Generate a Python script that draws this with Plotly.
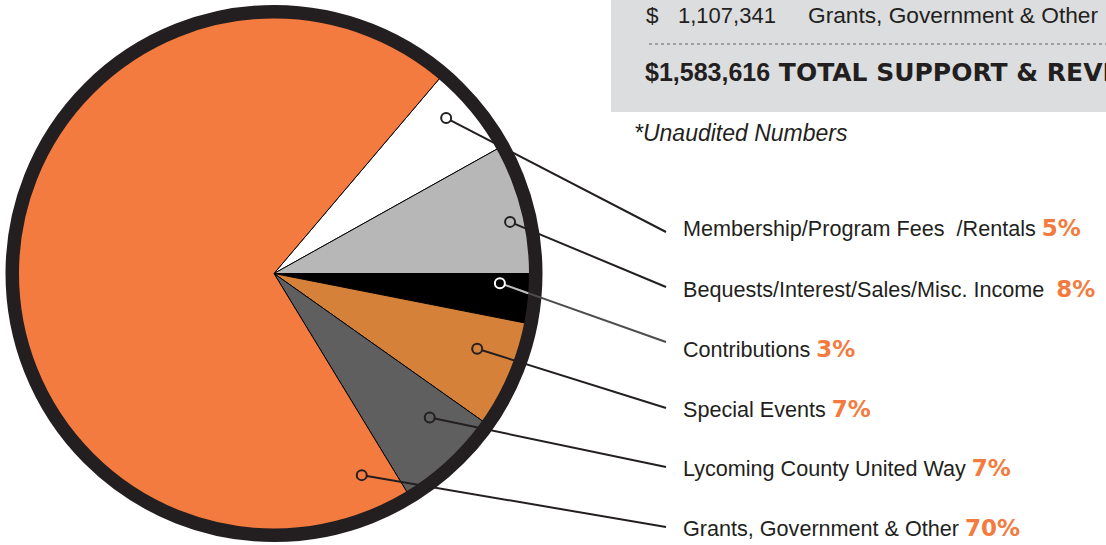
import math
import plotly.graph_objects as go

# ---- data ----
categories = [
    "Membership/Program Fees&nbsp;&nbsp;/Rentals",
    "Bequests/Interest/Sales/Misc. Income&nbsp;",
    "Contributions",
    "Special Events",
    "Lycoming County United Way",
    "Grants, Government & Other",
]
slice_shares = [5.7, 8.1, 3.1, 6.7, 6.5, 69.9]     # measured slice sizes (%)
label_pcts = [5, 8, 3, 7, 7, 70]                   # printed percentages
grants_amount = "1,107,341"
total_amount = "$1,583,616"

# ---- styling ----
slice_colors = ["#FFFFFF", "#B7B7B7", "#000000", "#D5813A", "#5F5F5F", "#F47B40"]
ORANGE = "#F47B40"
DARK = "#231F20"
SANS = "Liberation Sans, Arial, sans-serif"
W, H = 1106, 545

cx, cy = 274.0, 273.5          # pie centre (px)
outer = 268.5                  # outer edge of border (px)
border_w = 13.5
R = outer - border_w / 2.0

# fraction along each slice, and radius ratio, where callout dots sit
dot_frac = [0.37, 0.577, 0.22, 0.38, 0.32, 0.031]
dot_rad = [0.864, 0.90, 0.842, 0.807, 0.79, 0.819]
line_end_x = 666
line_end_y = [232, 287, 342, 408, 467, 527]
label_x = 681
label_y = [228, 289, 349, 409, 468, 528]

total = sum(slice_shares)
rotation = 90 - 360.0 * (slice_shares[0] + slice_shares[1]) / total

fig = go.Figure()

dom_x = [(cx - R) / W, (cx + R) / W]
dom_y = [(H - cy - R) / H, (H - cy + R) / H]

fig.add_trace(go.Pie(
    labels=categories, values=slice_shares, sort=False, direction="clockwise",
    rotation=rotation, textinfo="none", hoverinfo="label+percent",
    marker=dict(colors=slice_colors, line=dict(color="#000000", width=1)),
    domain=dict(x=dom_x, y=dom_y), showlegend=False,
))
fig.add_trace(go.Pie(
    labels=["border"], values=[1], sort=False, textinfo="none", hoverinfo="skip",
    marker=dict(colors=["rgba(0,0,0,0)"], line=dict(color=DARK, width=border_w)),
    domain=dict(x=dom_x, y=dom_y), showlegend=False,
))

# invisible pixel axes for callouts
fig.add_trace(go.Scatter(x=[0, W], y=[0, H], mode="markers",
                         marker=dict(opacity=0), hoverinfo="skip", showlegend=False))

shapes = []
annotations = []

# top-right grey box
shapes.append(dict(type="rect", x0=611, x1=W + 5, y0=-5, y1=112,
                   fillcolor="#DCDDDE", line=dict(width=0), layer="above"))
shapes.append(dict(type="line", x0=649, x1=W + 5, y0=44, y1=44,
                   line=dict(color="#8A8A8A", width=1.5, dash="dot"), layer="above"))

annotations += [
    dict(x=644, y=15, text="$", font=dict(family=SANS, size=22.5, color=DARK)),
    dict(x=676, y=15, text=grants_amount, font=dict(family=SANS, size=22, color=DARK)),
    dict(x=806, y=15, text=categories[5], font=dict(family=SANS, size=22.7, color=DARK)),
    dict(x=643, y=72,
         text="<b>" + total_amount + "<span style='font-family:DejaVu Sans'> TOTAL SUPPORT &amp; REVENUE</span></b>",
         font=dict(family=SANS, size=25, color=DARK)),
    dict(x=632, y=133, text="<i>*Unaudited Numbers</i>",
         font=dict(family=SANS, size=23, color=DARK)),
]

start = rotation
for i, (cat, v) in enumerate(zip(categories, slice_shares)):
    span = 360.0 * v / total
    a = math.radians(start + dot_frac[i] * span)
    r = dot_rad[i] * outer
    dx, dy = cx + r * math.sin(a), cy - r * math.cos(a)
    start += span
    ex, ey = line_end_x, line_end_y[i]
    L = math.hypot(ex - dx, ey - dy)
    ux, uy = (ex - dx) / L, (ey - dy) / L
    rr = 5.0
    sx, sy = dx + ux * rr, dy + uy * rr
    is_black = slice_colors[i] == "#000000"
    lc = "#4D4D4D" if is_black else DARK
    shapes.append(dict(type="line", x0=sx, y0=sy, x1=ex, y1=ey,
                       line=dict(color=lc, width=2), layer="above"))
    if is_black:
        shapes.append(dict(type="line", x0=sx, y0=sy, x1=dx + ux * 30, y1=dy + uy * 30,
                           line=dict(color="#BDBDBD", width=2), layer="above"))
    shapes.append(dict(type="circle", x0=dx - rr, x1=dx + rr, y0=dy - rr, y1=dy + rr,
                       line=dict(color="#FFFFFF" if is_black else DARK, width=2),
                       fillcolor="rgba(0,0,0,0)", layer="above"))
    annotations.append(dict(
        x=label_x, y=label_y[i],
        text=cat + " <span style='font-family:DejaVu Sans;font-weight:bold;color:" + ORANGE
             + ";font-size:23px'>" + str(label_pcts[i]) + "%</span>",
        font=dict(family=SANS, size=21.6, color=DARK)))

for an in annotations:
    an.update(xref="x", yref="y", xanchor="left", yanchor="middle", showarrow=False)

fig.update_layout(
    width=W, height=H, margin=dict(l=0, r=0, t=0, b=0),
    paper_bgcolor="white", plot_bgcolor="white",
    xaxis=dict(range=[0, W], visible=False, fixedrange=True),
    yaxis=dict(range=[H, 0], visible=False, fixedrange=True),
    shapes=shapes, annotations=annotations,
)
fig.write_html("out.html")
